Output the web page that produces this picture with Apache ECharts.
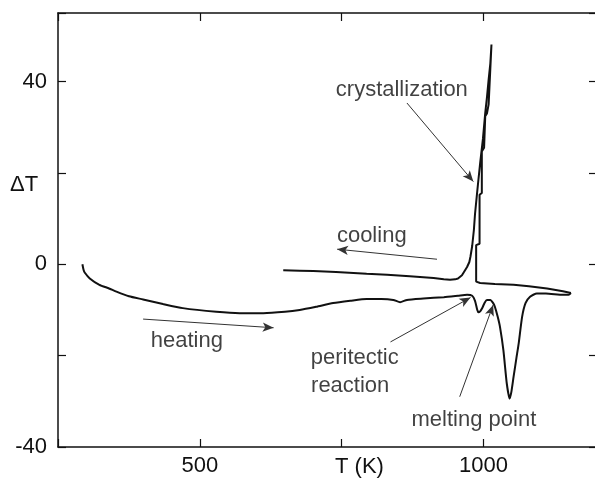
<!DOCTYPE html>
<html>
<head>
<meta charset="utf-8">
<script src="https://cdn.jsdelivr.net/npm/echarts@6/dist/echarts.min.js"></script>
<style>
  html, body { margin: 0; padding: 0; background: #fff; }
  #chart { width: 595px; height: 483px; }
</style>
</head>
<body>
<div id="chart"></div>
<script>
// DTA trace: temperature T (K) vs. signal dT
const heating = [
  [293, 0], [295, -1.2], [297, -1.8], [306, -3.1], [323, -4.5], [340, -5.3],
  [353, -6], [375, -7], [400, -7.7], [435, -8.7], [470, -9.6], [529, -10.4],
  [570, -10.7], [612, -10.7], [650, -10.4], [676, -10], [705, -9.3], [735, -8.5],
  [765, -8], [794, -7.6], [820, -7.6], [841, -7.8], [853, -8.3], [865, -7.8],
  [894, -7.5], [930, -7.2], [955, -6.9], [971, -6.7], [980, -6.9], [985, -8],
  [989, -10], [991, -10.5], [994, -10.3], [998, -9.5], [1002, -8.4], [1006, -7.8],
  [1012, -7.8], [1017, -8.5], [1020, -9.3], [1025, -11.5], [1029, -13.7],
  [1035, -18.8], [1041, -26.1], [1046, -29.4], [1049, -28], [1053, -24.6],
  [1058, -20.5], [1062, -17.3], [1068, -11.5], [1074, -8.5], [1082, -7.1],
  [1094, -6.4], [1110, -6.4], [1140, -6.7], [1150, -6.7], [1154, -6.3]
];
const cooling = [
  [1154, -6.3], [1140, -5.9], [1112, -5.3], [1080, -4.8], [1053, -4.5],
  [1020, -4.3], [994, -4.1], [987, -3.8],
  [987, 4.2], [993, 4.5], [993, 15.2], [997, 15.6], [997, 24.7], [1001, 25.5],
  [1003, 32.4], [1006, 33], [1009, 35], [1014, 48.1],
  [1012, 44], [1009, 40.4], [1006, 36.5], [1003, 33.1], [999, 27.5], [994, 22.1],
  [991, 18.5], [988, 14.8], [985, 11], [983, 7.5], [980, 4], [977, 1.7],
  [975, 0.5], [971, -0.6], [968, -1.2], [962, -2.4], [955, -3.1], [950, -3.3],
  [941, -3.4], [930, -3.3], [912, -3.0], [870, -2.6], [830, -2.3], [794, -2.1],
  [740, -1.7], [700, -1.5], [676, -1.4], [647, -1.3]
];
// annotation texts [T, dT, text] and arrows [T0, dT0, T1, dT1]
const notes = [
  [856, 38.2, 'crystallization'],
  [803, 6.3, 'cooling'],
  [477, -16.8, 'heating'],
  [773, -20.6, 'peritectic'],
  [765, -26.6, 'reaction'],
  [983, -34.1, 'melting point']
];
const arrows = [
  [400, -12.0, 630, -13.9],
  [918, 1.1, 742, 3.3],
  [865, 35.3, 982, 18.1],
  [836, -17.0, 977, -7.3],
  [958, -29.0, 1017, -8.9]
];
const xTickLabels = [500, 1000];
const yTickLabels = [40, 0, -40];

const chart = echarts.init(document.getElementById('chart'));
const font = '"Liberation Sans", Arial, sans-serif';
const ink = '#111';

const xBase = {
  type: 'value', min: 250, max: 1200, interval: 250,
  axisLine: { onZero: false, lineStyle: { color: ink, width: 1.5 } },
  axisTick: { inside: true, length: 8, lineStyle: { color: ink, width: 1.2 } },
  splitLine: { show: false }
};
const yBase = {
  type: 'value', min: -40, max: 55, interval: 20,
  axisLine: { onZero: false, lineStyle: { color: ink, width: 1.5 } },
  axisTick: { inside: true, length: 8, lineStyle: { color: ink, width: 1.2 } },
  splitLine: { show: false }
};

chart.setOption({
  animation: false,
  backgroundColor: '#fff',
  grid: { left: 58, top: 13, right: -2, bottom: 36, outerBoundsMode: 'none', containLabel: false },
  xAxis: [
    Object.assign({}, xBase, {
      position: 'bottom',
      axisLabel: {
        margin: 8, fontSize: 22, color: ink, fontFamily: font,
        formatter: v => (xTickLabels.includes(v) ? String(v) : '')
      }
    }),
    Object.assign({}, xBase, { position: 'top', axisLabel: { show: false } })
  ],
  yAxis: [
    Object.assign({}, yBase, {
      position: 'left',
      axisLabel: {
        margin: 11, fontSize: 22, color: ink, fontFamily: font,
        formatter: v => (yTickLabels.includes(v) ? String(v) : '')
      }
    }),
    Object.assign({}, yBase, { position: 'right', axisLabel: { show: false } })
  ],
  graphic: [
    { type: 'text', left: 10, top: 174,
      style: { text: 'ΔT', fontSize: 22, fontFamily: font, fill: ink } },
    { type: 'text', left: 335, top: 456,
      style: { text: 'T (K)', fontSize: 22, fontFamily: font, fill: ink } }
  ],
  series: [
    {
      name: 'heating', type: 'line', data: heating, showSymbol: false,
      smooth: 0.2, lineStyle: { color: ink, width: 2 }
    },
    {
      name: 'cooling', type: 'line', data: cooling, showSymbol: false,
      lineStyle: { color: ink, width: 2 }
    },
    {
      name: 'notes', type: 'scatter', data: notes, symbolSize: 0, silent: true,
      label: {
        show: true, position: 'inside', fontSize: 22, fontFamily: font, color: ink,
        formatter: p => p.value[2]
      },
      markLine: {
        silent: true, symbol: ['none', 'arrow'], symbolSize: [7, 11],
        lineStyle: { color: '#333', width: 1, type: 'solid' },
        label: { show: false },
        data: arrows.map(a => [{ coord: [a[0], a[1]] }, { coord: [a[2], a[3]] }])
      }
    }
  ]
});
</script>
</body>
</html>
